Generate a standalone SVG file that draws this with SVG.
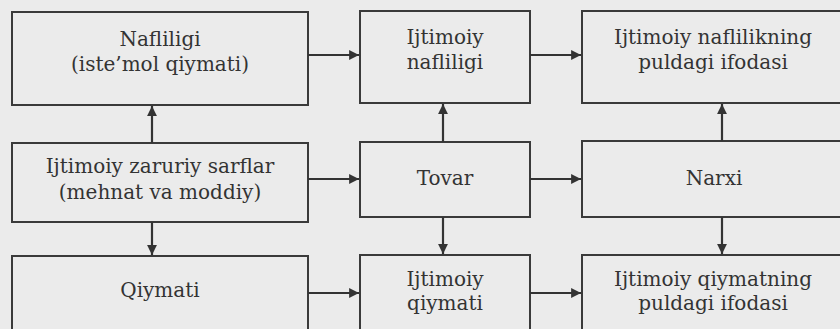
<svg xmlns="http://www.w3.org/2000/svg" width="840" height="329" viewBox="0 0 840 329">
<defs>
<style>
.box{fill:#ebebeb;stroke:#3a3a3a;stroke-width:2}
text{font-family:'DejaVu Serif','Liberation Serif',serif;font-size:20px;fill:#333;text-anchor:middle}
.c{stroke:#333;stroke-width:2.2;fill:none}
</style>
<marker id="ah" viewBox="0 0 10 10" refX="10" refY="5" markerWidth="4.5" markerHeight="4.5" orient="auto" markerUnits="strokeWidth">
<path d="M0,0 L10,5 L0,10 z" fill="#333"/>
</marker>
</defs>
<rect width="840" height="329" fill="#ebebeb"/>
<g id="n1"><rect class="box" x="12" y="12" width="296" height="93"/><text x="160" y="46">Nafliligi</text><text x="160" y="71">(iste’mol qiymati)</text></g>
<g id="n2"><rect class="box" x="360" y="11" width="170" height="92"/><text x="445" y="44">Ijtimoiy</text><text x="445" y="69">nafliligi</text></g>
<g id="n3"><rect class="box" x="582" y="11" width="264" height="92"/><text x="713" y="44">Ijtimoiy naflilikning</text><text x="713" y="69">puldagi ifodasi</text></g>
<g id="n4"><rect class="box" x="12" y="143" width="296" height="79"/><text x="160" y="173">Ijtimoiy zaruriy sarflar</text><text x="160" y="199">(mehnat va moddiy)</text></g>
<g id="n5"><rect class="box" x="360" y="142" width="170" height="75"/><text x="445" y="185">Tovar</text></g>
<g id="n6"><rect class="box" x="582" y="141" width="264" height="76"/><text x="714" y="185">Narxi</text></g>
<g id="n7"><rect class="box" x="12" y="256" width="296" height="80"/><text x="160" y="297">Qiymati</text></g>
<g id="n8"><rect class="box" x="360" y="255" width="170" height="81"/><text x="445" y="286">Ijtimoiy</text><text x="445" y="310">qiymati</text></g>
<g id="n9"><rect class="box" x="582" y="255" width="264" height="81"/><text x="713" y="286">Ijtimoiy qiymatning</text><text x="713" y="310">puldagi ifodasi</text></g>
<g id="connectors">
<line class="c" x1="308" y1="55" x2="359" y2="55" marker-end="url(#ah)"/>
<line class="c" x1="530" y1="55" x2="581" y2="55" marker-end="url(#ah)"/>
<line class="c" x1="308" y1="179" x2="359" y2="179" marker-end="url(#ah)"/>
<line class="c" x1="530" y1="179" x2="581" y2="179" marker-end="url(#ah)"/>
<line class="c" x1="308" y1="293" x2="359" y2="293" marker-end="url(#ah)"/>
<line class="c" x1="530" y1="293" x2="581" y2="293" marker-end="url(#ah)"/>
<line class="c" x1="152" y1="143" x2="152" y2="106" marker-end="url(#ah)"/>
<line class="c" x1="152" y1="222" x2="152" y2="255" marker-end="url(#ah)"/>
<line class="c" x1="443" y1="142" x2="443" y2="104" marker-end="url(#ah)"/>
<line class="c" x1="443" y1="217" x2="443" y2="254" marker-end="url(#ah)"/>
<line class="c" x1="722" y1="141" x2="722" y2="104" marker-end="url(#ah)"/>
<line class="c" x1="722" y1="217" x2="722" y2="254" marker-end="url(#ah)"/>
</g>
</svg>
